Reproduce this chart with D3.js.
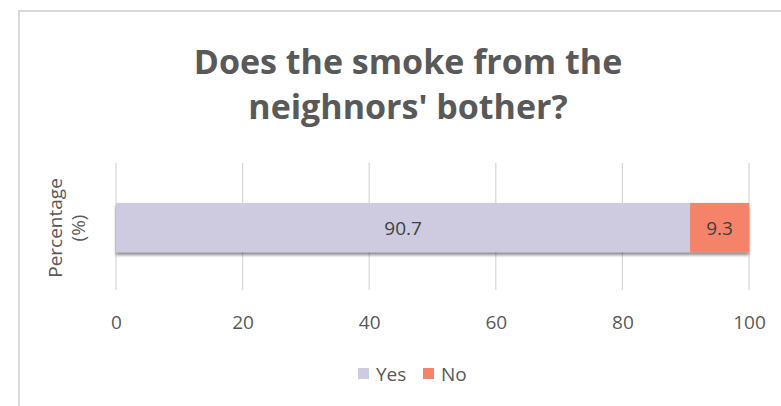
<!DOCTYPE html>
<html><head><meta charset="utf-8">
<script src="https://cdn.jsdelivr.net/npm/d3@7"></script>
<style>body{margin:0;background:#fff;} svg{display:block;}</style>
</head><body>
<svg id="c" width="781" height="406"></svg>
<script>
const titleLines = ["Does the smoke from the", "neighnors' bother?"];
const yTitleLines = ["Percentage", "(%)"];
const categories = ["Does the smoke bother"];
const seriesNames = ["Yes", "No"];
const seriesValues = [90.7, 9.3];
const seriesColors = ["#cecbe1", "#f4836a"];
const xTicks = [0, 20, 40, 60, 80, 100];

const svg = d3.select("#c");
const textColor = "#595959";
const font = "'Open Sans', sans-serif";

// border
svg.append("rect").attr("x", 19).attr("y", 11).attr("width", 781).attr("height", 420)
  .attr("fill", "#fff").attr("stroke", "#d9d9d9").attr("stroke-width", 2);

const x = d3.scaleLinear().domain([0, 100]).range([116, 749]);
const y = d3.scaleBand().domain(categories).range([165, 290]).paddingInner(0).paddingOuter(0.77);

// gridlines
svg.append("g").selectAll("line").data(xTicks).join("line")
  .attr("x1", d => x(d)).attr("x2", d => x(d)).attr("y1", 163).attr("y2", 290)
  .attr("stroke", "#d9d9d9").attr("stroke-width", 1.3);

// axis labels
const xAxis = d3.axisBottom(x).tickValues(xTicks).tickSize(0).tickPadding(0).tickFormat(d3.format("d"));
const ax = svg.append("g").attr("transform", "translate(0,315)").call(xAxis);
ax.select(".domain").remove();
ax.selectAll("text").attr("fill", textColor).attr("font-family", font).attr("font-size", 19);

// stacked data
let acc = 0;
const stacked = seriesValues.map((v, i) => { const s = {name: seriesNames[i], x0: acc, x1: acc + v, v, c: seriesColors[i]}; acc += v; return s; });

const defs = svg.append("defs");
const f = defs.append("filter").attr("id", "sh").attr("x", "-5%").attr("y", "-20%").attr("width", "110%").attr("height", "160%");
f.append("feDropShadow").attr("dx", 0).attr("dy", 3).attr("stdDeviation", 1.5).attr("flood-color", "#000").attr("flood-opacity", 0.45);

const cat = categories[0];
const g = svg.append("g");
g.append("g").attr("filter", "url(#sh)").selectAll("rect").data(stacked).join("rect")
  .attr("x", d => x(d.x0)).attr("width", d => x(d.x1) - x(d.x0))
  .attr("y", y(cat)).attr("height", y.bandwidth())
  .attr("fill", d => d.c);

g.selectAll("text").data(stacked).join("text")
  .attr("x", d => (x(d.x0) + x(d.x1)) / 2).attr("y", y(cat) + y.bandwidth() / 2)
  .attr("dy", "0.4em").attr("text-anchor", "middle")
  .attr("fill", "#404040").attr("font-family", font).attr("font-size", 19)
  .text(d => d.v.toFixed(1));

// title
const tt = svg.append("g");
titleLines.forEach((t, i) => {
  tt.append("text").attr("x", 408).attr("y", 74 + i * 45).attr("text-anchor", "middle")
    .attr("fill", textColor).attr("font-family", font).attr("font-weight", 700)
    .attr("font-size", 34).text(t);
});

// y title
yTitleLines.forEach((t, i) => {
  svg.append("text").attr("transform", `translate(${62 + i * 23},228) rotate(-90)`)
    .attr("text-anchor", "middle").attr("fill", textColor).attr("font-family", font).attr("font-size", 19)
    .text(t);
});

// legend
const leg = svg.append("g");
const legX = [358, 423];
seriesNames.forEach((n, i) => {
  leg.append("rect").attr("x", legX[i]).attr("y", 368).attr("width", 11).attr("height", 11).attr("fill", seriesColors[i]);
  leg.append("text").attr("x", legX[i] + 18).attr("y", 381).attr("fill", textColor)
    .attr("font-family", font).attr("font-size", 19).text(n);
});
</script>
</body></html>
